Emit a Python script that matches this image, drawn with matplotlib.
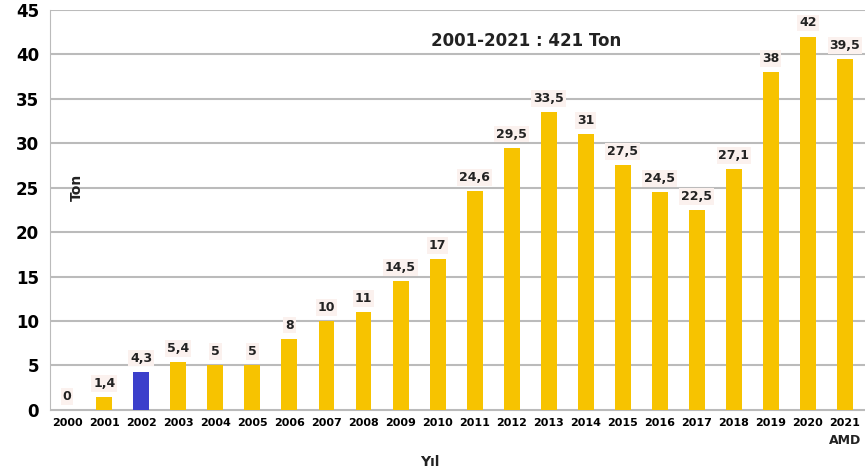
import matplotlib.pyplot as plt

years = [str(y) for y in range(2000, 2022)]
values = [0, 1.4, 4.3, 5.4, 5, 5, 8, 10, 11, 14.5, 17, 24.6, 29.5, 33.5, 31,
          27.5, 24.5, 22.5, 27.1, 38, 42, 39.5]
labels = ['0', '1,4', '4,3', '5,4', '5', '5', '8', '10', '11', '14,5', '17',
          '24,6', '29,5', '33,5', '31', '27,5', '24,5', '22,5', '27,1', '38',
          '42', '39,5']
highlight = '2002'
title_text = '2001-2021 : 421 Ton'

yellow = '#F7C300'
blue = '#3B3FCB'
colors = [blue if y == highlight else yellow for y in years]

fig = plt.figure(figsize=(8.65, 4.7), dpi=100)
ax = fig.add_axes([0.058, 0.128, 0.942, 0.851])

x = list(range(len(years)))
ax.bar(x, values, width=0.43, color=colors, zorder=3)

for xi, v, lab in zip(x, values, labels):
    ax.text(xi, v + 0.8, lab, ha='center', va='bottom', fontsize=9,
            fontweight='bold', color='#222222', zorder=4,
            bbox=dict(boxstyle='square,pad=0.15', fc='#FBF1EE', ec='none'))

ax.set_xlim(-0.46, 21.54)
ax.set_ylim(0, 45)
ax.set_yticks(range(0, 46, 5))
ax.set_xticks(x)
ax.set_xticklabels(years, fontsize=8, fontweight='bold')
ax.tick_params(axis='y', labelsize=12, length=0, pad=8)
ax.tick_params(axis='x', length=0, pad=6)
for lab in ax.get_yticklabels():
    lab.set_fontweight('bold')

ax.grid(axis='y', color='#BBBBBB', linewidth=1.5, zorder=0)
for side in ['top', 'right']:
    ax.spines[side].set_visible(False)
ax.spines['left'].set_color('#BBBBBB')
ax.spines['bottom'].set_color('#BBBBBB')

ax.text(12.4, 41.5, title_text, ha='center', va='center', fontsize=12,
        fontweight='bold', color='#222222')
ax.text(0.25, 25, 'Ton', rotation=90, ha='center', va='center', fontsize=10,
        fontweight='bold', color='#222222')
ax.text(21, -3.4, 'AMD', ha='center', va='center', fontsize=9,
        fontweight='bold', color='#222222')
fig.text(0.497, 0.018, 'Yıl', ha='center', va='center', fontsize=10,
         fontweight='bold', color='#222222')

fig.savefig('out.png', dpi=100)
